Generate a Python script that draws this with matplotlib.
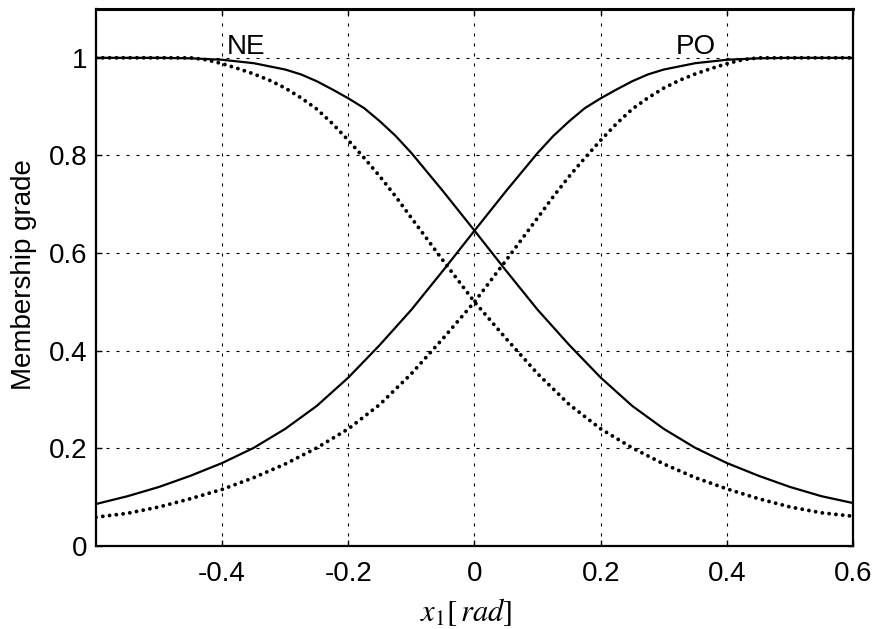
import matplotlib
matplotlib.use("Agg")
import matplotlib.pyplot as plt

# ---- values ----
# PO (solid), sampled at x_po_solid
x_po_solid = [-0.60, -0.55, -0.50, -0.45, -0.40, -0.35, -0.30, -0.25, -0.20, -0.15,
              -0.10, -0.05, 0.00, 0.05, 0.075, 0.10, 0.125, 0.15, 0.175, 0.20,
              0.225, 0.25, 0.275, 0.30, 0.35, 0.40, 0.45, 0.50, 0.60]
po_solid = [0.086, 0.102, 0.121, 0.144, 0.170, 0.201, 0.240, 0.287, 0.345, 0.412,
            0.484, 0.564, 0.646, 0.727, 0.766, 0.805, 0.840, 0.870, 0.897, 0.917,
            0.935, 0.952, 0.966, 0.976, 0.989, 0.996, 0.999, 1.000, 1.000]

# NE (solid)
x_ne_solid = [-0.60, -0.50, -0.45, -0.40, -0.35, -0.30, -0.275, -0.25, -0.225, -0.20,
              -0.175, -0.15, -0.125, -0.10, -0.075, -0.05, 0.00, 0.05, 0.10, 0.15,
              0.20, 0.25, 0.30, 0.35, 0.40, 0.45, 0.50, 0.55, 0.60]
ne_solid = [1.000, 1.000, 0.999, 0.996, 0.989, 0.976, 0.966, 0.952, 0.935, 0.917,
            0.897, 0.870, 0.840, 0.805, 0.766, 0.727, 0.646, 0.564, 0.484, 0.412,
            0.345, 0.287, 0.240, 0.201, 0.170, 0.144, 0.121, 0.102, 0.088]

# PO (dotted)
x_po_dotted = [-0.60, -0.55, -0.50, -0.45, -0.40, -0.35, -0.30, -0.25, -0.20, -0.15,
               -0.10, -0.05, 0.00, 0.05, 0.10, 0.125, 0.15, 0.175, 0.20, 0.225,
               0.25, 0.275, 0.30, 0.325, 0.35, 0.375, 0.40, 0.425, 0.45, 0.60]
po_dotted = [0.059, 0.067, 0.080, 0.097, 0.116, 0.140, 0.168, 0.201, 0.240, 0.290,
             0.353, 0.425, 0.500, 0.585, 0.672, 0.716, 0.757, 0.795, 0.831, 0.865,
             0.895, 0.918, 0.938, 0.954, 0.967, 0.978, 0.988, 0.996, 1.000, 1.000]

# NE (dotted)
x_ne_dotted = [-0.60, -0.45, -0.425, -0.40, -0.375, -0.35, -0.325, -0.30, -0.275, -0.25,
               -0.225, -0.20, -0.175, -0.15, -0.125, -0.10, -0.05, 0.00, 0.05, 0.10,
               0.15, 0.20, 0.25, 0.30, 0.35, 0.40, 0.45, 0.50, 0.55, 0.60]
ne_dotted = [1.000, 1.000, 0.996, 0.988, 0.978, 0.967, 0.954, 0.938, 0.918, 0.895,
             0.865, 0.831, 0.795, 0.757, 0.716, 0.672, 0.585, 0.500, 0.425, 0.353,
             0.290, 0.240, 0.201, 0.168, 0.140, 0.117, 0.097, 0.080, 0.068, 0.061]

x_ticks = [-0.4, -0.2, 0, 0.2, 0.4, 0.6]
x_tick_labels = ["-0.4", "-0.2", "0", "0.2", "0.4", "0.6"]
y_ticks = [0, 0.2, 0.4, 0.6, 0.8, 1.0]
y_tick_labels = ["0", "0.2", "0.4", "0.6", "0.8", "1"]

plt.rcParams['font.family'] = ['Liberation Sans', 'DejaVu Sans']
plt.rcParams['axes.unicode_minus'] = False
plt.rcParams['lines.scale_dashes'] = False
plt.rcParams['mathtext.fontset'] = 'stix'

fig = plt.figure(figsize=(8.78, 6.29), dpi=100)
ax = fig.add_axes([96/878, 1 - 546/629, 757/878, 537/629])

ax.plot(x_po_solid, po_solid, color='black', lw=1.6, solid_joinstyle='round')
ax.plot(x_ne_solid, ne_solid, color='black', lw=1.6, solid_joinstyle='round')
for xv, yv in ((x_po_dotted, po_dotted), (x_ne_dotted, ne_dotted)):
    ax.plot(xv, yv, color='black', lw=2.8, linestyle=(0, (0.01, 4.9)),
            dash_capstyle='round')

ax.set_xlim(-0.6, 0.6)
ax.set_ylim(0, 1.1)
ax.set_xticks(x_ticks)
ax.set_xticklabels(x_tick_labels)
ax.set_yticks(y_ticks)
ax.set_yticklabels(y_tick_labels)

ax.grid(True, color='black', lw=0.8, linestyle=(0, (2.2, 5.0)))
ax.tick_params(direction='in', length=4, width=1, top=True, right=True,
               labelsize=20, colors='black')
ax.tick_params(axis='x', pad=11)
ax.tick_params(axis='y', pad=6)
for s in ax.spines.values():
    s.set_linewidth(1.6)
ax.spines['top'].set_linewidth(2.2)

ax.text(-0.392, 1.008, "NE", fontsize=20, ha='left', va='baseline')
ax.text(0.319, 1.008, "PO", fontsize=20, ha='left', va='baseline')

fig.text(24/878, 1 - 275/629, "Membership grade", rotation=90, fontsize=20,
         ha='center', va='center')
fig.text(466/878, 1 - 612/629, r"$x_1[\,rad]$", fontsize=22,
         ha='center', va='center')

fig.savefig("out.png", dpi=100)
